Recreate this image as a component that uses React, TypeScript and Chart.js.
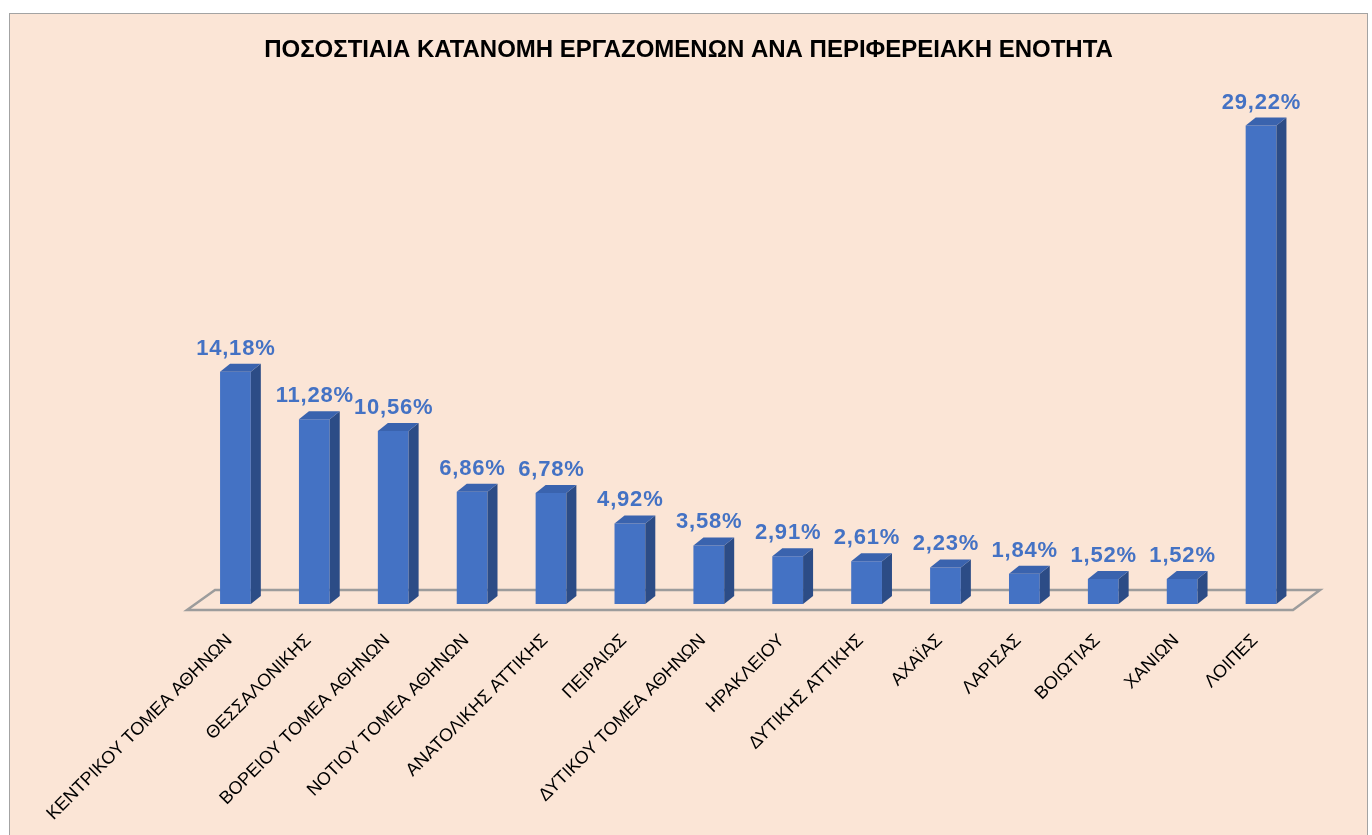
import React, { useEffect, useRef } from "react";
import { Chart, registerables } from "chart.js";

Chart.register(...registerables);

const TITLE = "ΠΟΣΟΣΤΙΑΙΑ ΚΑΤΑΝΟΜΗ ΕΡΓΑΖΟΜΕΝΩΝ ΑΝΑ ΠΕΡΙΦΕΡΕΙΑΚΗ ΕΝΟΤΗΤΑ";

const categories = [
  "ΚΕΝΤΡΙΚΟΥ ΤΟΜΕΑ ΑΘΗΝΩΝ",
  "ΘΕΣΣΑΛΟΝΙΚΗΣ",
  "ΒΟΡΕΙΟΥ ΤΟΜΕΑ ΑΘΗΝΩΝ",
  "ΝΟΤΙΟΥ ΤΟΜΕΑ ΑΘΗΝΩΝ",
  "ΑΝΑΤΟΛΙΚΗΣ ΑΤΤΙΚΗΣ",
  "ΠΕΙΡΑΙΩΣ",
  "ΔΥΤΙΚΟΥ ΤΟΜΕΑ ΑΘΗΝΩΝ",
  "ΗΡΑΚΛΕΙΟΥ",
  "ΔΥΤΙΚΗΣ ΑΤΤΙΚΗΣ",
  "ΑΧΑΪΑΣ",
  "ΛΑΡΙΣΑΣ",
  "ΒΟΙΩΤΙΑΣ",
  "ΧΑΝΙΩΝ",
  "ΛΟΙΠΕΣ",
];

const values = [14.18, 11.28, 10.56, 6.86, 6.78, 4.92, 3.58, 2.91, 2.61, 2.23, 1.84, 1.52, 1.52, 29.22];

const valueLabels = values.map((v) => v.toFixed(2).replace(".", ",") + "%");

const Y_MAX = 32;

const FRONT = "#4472C4";
const TOP = "#3A63AE";
const SIDE = "#2C4C86";
const LABEL_BLUE = "#4472C4";
const BG = "#FBE5D6";

const DEPTH_X = 10;
const DEPTH_Y = -8;

const floorPlugin = {
  id: "floor3d",
  beforeDatasetsDraw(chart: any) {
    const { ctx, chartArea } = chart;
    const { left, right, bottom } = chartArea;
    ctx.save();
    ctx.beginPath();
    ctx.moveTo(left - 9, bottom + 6);
    ctx.lineTo(right - 7.5, bottom + 6);
    ctx.lineTo(right + 19.5, bottom - 14);
    ctx.lineTo(left + 19, bottom - 14);
    ctx.closePath();
    ctx.strokeStyle = "#9C9C9C";
    ctx.lineWidth = 2.5;
    ctx.lineJoin = "miter";
    ctx.stroke();
    ctx.restore();
  },
};

const bar3dPlugin = {
  id: "bar3d",
  afterDatasetsDraw(chart: any) {
    const { ctx } = chart;
    const meta = chart.getDatasetMeta(0);
    ctx.save();
    meta.data.forEach((bar: any, i: number) => {
      const w = bar.width;
      const xl = bar.x - w / 2;
      const xr = bar.x + w / 2;
      const yt = bar.y;
      const yb = bar.base;
      // side
      ctx.beginPath();
      ctx.moveTo(xr, yt);
      ctx.lineTo(xr + DEPTH_X, yt + DEPTH_Y);
      ctx.lineTo(xr + DEPTH_X, yb + DEPTH_Y);
      ctx.lineTo(xr, yb);
      ctx.closePath();
      ctx.fillStyle = SIDE;
      ctx.fill();
      // top
      ctx.beginPath();
      ctx.moveTo(xl, yt);
      ctx.lineTo(xl + DEPTH_X, yt + DEPTH_Y);
      ctx.lineTo(xr + DEPTH_X, yt + DEPTH_Y);
      ctx.lineTo(xr, yt);
      ctx.closePath();
      ctx.fillStyle = TOP;
      ctx.fill();
      // value label
      ctx.fillStyle = LABEL_BLUE;
      ctx.font = "bold 22px 'Liberation Sans', Arial, sans-serif";
      (ctx as any).letterSpacing = "0.8px";
      ctx.textAlign = "center";
      ctx.textBaseline = "alphabetic";
      ctx.fillText(valueLabels[i], bar.x + 0.4, yt - 17);
      (ctx as any).letterSpacing = "0px";
    });
    ctx.restore();
  },
};

const titlePlugin = {
  id: "titleDraw",
  afterDraw(chart: any) {
    const { ctx, width } = chart;
    ctx.save();
    ctx.fillStyle = "#000000";
    ctx.font = "bold 24px 'Liberation Sans', Arial, sans-serif";
    ctx.textAlign = "center";
    ctx.textBaseline = "alphabetic";
    ctx.fillText(TITLE, width / 2, 43);
    ctx.restore();
  },
};

export default function App() {
  const canvasRef = useRef<HTMLCanvasElement | null>(null);

  useEffect(() => {
    document.body.style.overflow = "hidden";
    const canvas = canvasRef.current;
    if (!canvas) return;
    const chart = new Chart(canvas, {
      type: "bar",
      data: {
        labels: categories,
        datasets: [
          {
            data: values,
            backgroundColor: FRONT,
            borderWidth: 0,
            barPercentage: 0.39,
            categoryPercentage: 1,
          },
        ],
      },
      options: {
        animation: false,
        responsive: false,
        devicePixelRatio: 1,
        layout: { padding: { left: 186, right: 66.5, top: 66, bottom: 0 } },
        plugins: {
          legend: { display: false },
          title: { display: false },
          tooltip: { enabled: false },
        },
        scales: {
          x: {
            grid: { display: false, drawTicks: false },
            border: { display: false },
            ticks: {
              autoSkip: false,
              maxRotation: 45,
              minRotation: 45,
              padding: 26,
              labelOffset: -6,
              color: "#000000",
              font: { family: "'Liberation Sans', Arial, sans-serif", size: 18 },
            },
            afterFit: (scale: any) => {
              scale.height = 231;
            },
          },
          y: {
            display: false,
            min: 0,
            max: Y_MAX,
          },
        },
      },
      plugins: [floorPlugin, bar3dPlugin, titlePlugin],
    });
    return () => chart.destroy();
  }, []);

  return (
    <div
      style={{
        position: "absolute",
        left: 9,
        top: 13,
        width: 1359,
        height: 822,
        boxSizing: "border-box",
        border: "1px solid #A3A3A3",
        borderBottom: "none",
        background: BG,
      }}
    >
      <canvas ref={canvasRef} width={1357} height={821} style={{ display: "block", width: 1357, height: 821 }} />
    </div>
  );
}
